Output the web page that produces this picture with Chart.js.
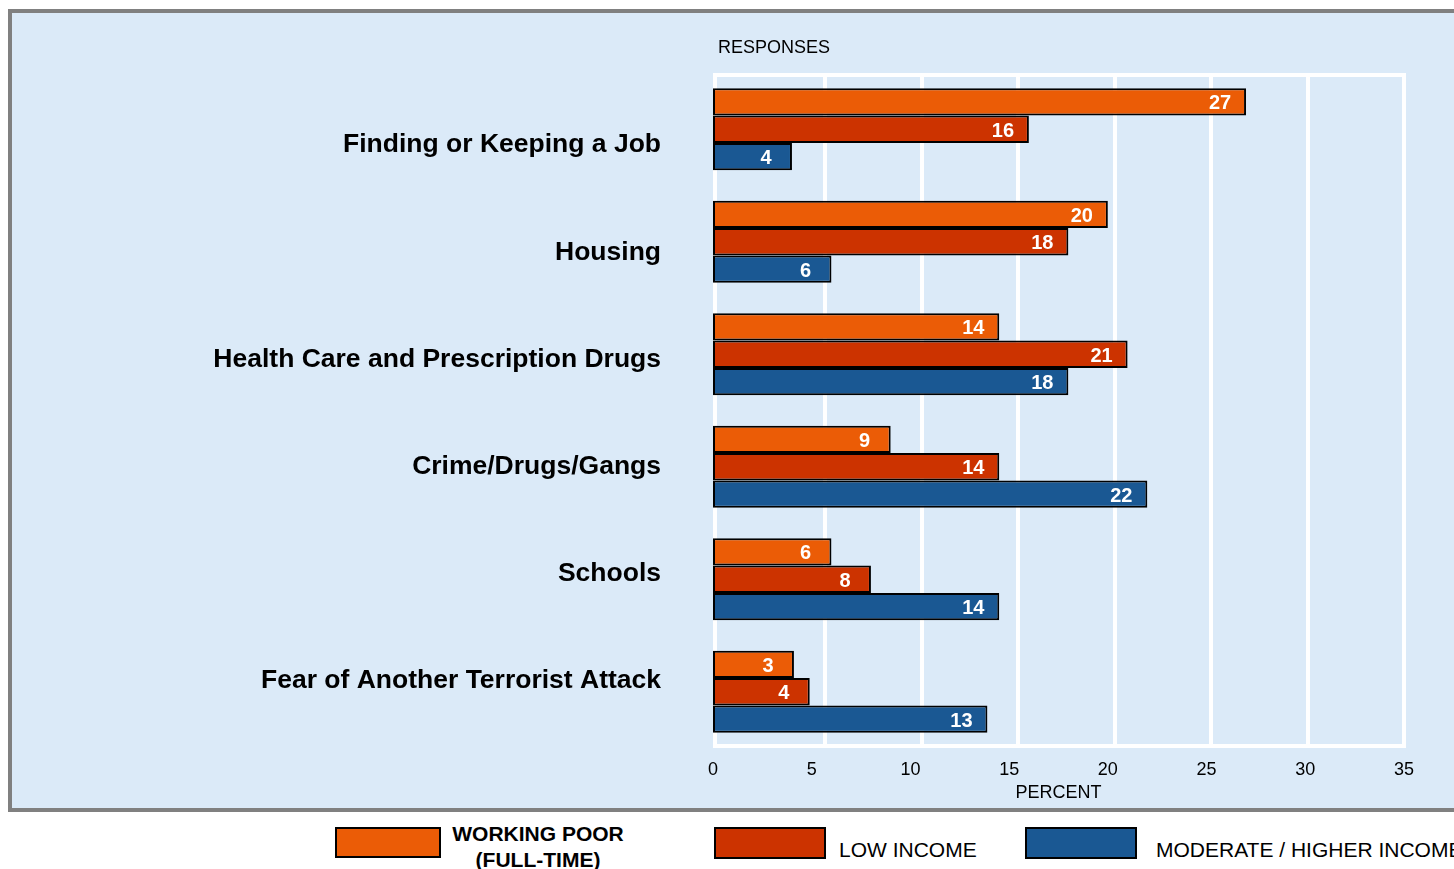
<!DOCTYPE html>
<html>
<head>
<meta charset="utf-8">
<script src="https://cdn.jsdelivr.net/npm/chart.js@4"></script>
<style>
  html, body { margin: 0; padding: 0; background: #fff; overflow: hidden; width: 1454px; height: 869px; }
  body { position: relative; font-family: "Liberation Sans", Arial, sans-serif; }
  #panel { position: absolute; left: 8px; top: 9px; width: 1500px; height: 795px;
    border: 4px solid #808080; background: #dbeaf8; }
  #chart { position: absolute; left: 0; top: 0; }
  .box { position: absolute; top: 827px; height: 27px; border: 2px solid #000; box-sizing: content-box; }
  .lbl { position: absolute; font-size: 21px; color: #000; white-space: nowrap; }
</style>
</head>
<body>
<div id="panel">
  <canvas id="chart" width="1442" height="795"></canvas>
</div>

<!-- legend -->
<div class="box" style="left:335px;width:102px;background:#eb5c06;"></div>
<div class="lbl" style="left:438px;top:821px;width:200px;text-align:center;font-weight:bold;line-height:26px;">WORKING POOR<br>(FULL-TIME)</div>
<div class="box" style="left:714px;width:108px;height:28px;background:#cc3300;"></div>
<div class="lbl" style="left:839px;top:838px;">LOW INCOME</div>
<div class="box" style="left:1025px;width:108px;height:28px;background:#1a5893;"></div>
<div class="lbl" style="left:1156px;top:838px;">MODERATE / HIGHER INCOME</div>

<script>
console.log('chart loaded');

const categories = [
  'Finding or Keeping a Job',
  'Housing',
  'Health Care and Prescription Drugs',
  'Crime/Drugs/Gangs',
  'Schools',
  'Fear of Another Terrorist Attack'
];
// bar lengths as drawn in the picture
const workingPoor = [27, 20, 14.5, 9, 6, 4.1];
const lowIncome = [16, 18, 21, 14.5, 8, 4.9];
const moderateHigher = [4, 6, 18, 22, 14.5, 13.9];
// numbers printed on the bars
const workingPoorLabels = [27, 20, 14, 9, 6, 3];
const lowIncomeLabels = [16, 18, 21, 14, 8, 4];
const moderateHigherLabels = [4, 6, 18, 22, 14, 13];
const gridTicks = [5, 10, 15, 20, 25, 30, 35];

const FONT = '"Liberation Sans", Arial, sans-serif';

function noPad(scale) {
  scale.paddingTop = 0;
  scale.paddingBottom = 0;
  scale.paddingLeft = 0;
  scale.paddingRight = 0;
}

/* ================= PLUGINS ================= */
const frame = {
  id: 'frame',
  beforeDatasetsDraw(chart) {
    const { ctx, chartArea: a } = chart;
    ctx.save();
    ctx.strokeStyle = '#ffffff';
    ctx.lineWidth = 4;
    ctx.strokeRect(a.left + 2, a.top + 2, a.right - a.left - 2, a.bottom - a.top - 4);
    ctx.fillStyle = '#000';
    ctx.font = '18px ' + FONT;
    ctx.textBaseline = 'middle';
    ctx.fillText('RESPONSES', a.left + 5, a.top - 25);
    ctx.restore();
  }
};

const valueLabels = {
  id: 'valueLabels',
  afterDatasetsDraw(chart) {
    const { ctx } = chart;
    ctx.save();
    ctx.fillStyle = '#fff';
    ctx.font = 'bold 20px ' + FONT;
    ctx.textAlign = 'center';
    ctx.textBaseline = 'middle';
    chart.data.datasets.forEach((ds, i) => {
      chart.getDatasetMeta(i).data.forEach((bar, j) => {
        ctx.fillText(String(ds.printed[j]), bar.x - 26, bar.y + 2);
      });
    });
    ctx.restore();
  }
};

/* ================= CHART ================= */
new Chart(document.getElementById('chart').getContext('2d'), {
  type: 'bar',
  data: {
    labels: categories,
    datasets: [
      { label: 'WORKING POOR (FULL-TIME)', data: workingPoor, printed: workingPoorLabels, backgroundColor: '#eb5c06' },
      { label: 'LOW INCOME', data: lowIncome, printed: lowIncomeLabels, backgroundColor: '#cc3300' },
      { label: 'MODERATE / HIGHER INCOME', data: moderateHigher, printed: moderateHigherLabels, backgroundColor: '#1a5893' }
    ].map(d => Object.assign(d, {
      borderColor: '#000',
      borderWidth: 2,
      borderSkipped: false,
      categoryPercentage: 0.73,
      barPercentage: 1.0
    }))
  },
  options: {
    indexAxis: 'y',
    responsive: false,
    animation: false,
    layout: { padding: { top: 60, right: 50, bottom: 0, left: 0 } },
    plugins: {
      legend: { display: false },
      tooltip: { enabled: false }
    },
    scales: {
      y: {
        type: 'category',
        grid: { display: false, drawTicks: false },
        border: { display: false },
        ticks: { display: false },
        afterFit(scale) { scale.width = 0; noPad(scale); }
      },
      // label axis: category names placed at their own spacing
      yl: {
        type: 'linear',
        position: 'left',
        reverse: true,
        offset: false,
        min: -0.672,
        max: 5.625,
        grid: { display: false, drawTicks: false, offset: false },
        border: { display: false },
        afterBuildTicks(scale) { scale.ticks = categories.map((c, i) => ({ value: i })); },
        ticks: {
          color: '#000',
          padding: 52,
          font: { family: FONT, size: 26.5, weight: 'bold' },
          callback: v => categories[v]
        },
        afterFit(scale) { scale.width = 701; noPad(scale); }
      },
      x: {
        type: 'linear',
        position: 'bottom',
        min: 0,
        max: 35,
        grid: { display: false, drawTicks: false },
        border: { display: false },
        ticks: {
          stepSize: 5,
          color: '#000',
          padding: 11,
          font: { family: FONT, size: 18 }
        },
        title: {
          display: true,
          text: 'PERCENT',
          color: '#000',
          padding: { top: 0, bottom: 4 },
          font: { family: FONT, size: 18 }
        },
        afterFit(scale) { scale.height = 60; noPad(scale); }
      },
      xg: {
        type: 'linear',
        position: 'bottom',
        min: -0.82,
        max: 35,
        grid: { color: '#ffffff', lineWidth: 4, drawTicks: false },
        border: { display: false },
        ticks: { display: false },
        afterBuildTicks(scale) { scale.ticks = gridTicks.map(v => ({ value: v })); },
        afterFit(scale) { scale.height = 0; noPad(scale); }
      }
    }
  },
  plugins: [frame, valueLabels]
});
</script>
</body>
</html>
